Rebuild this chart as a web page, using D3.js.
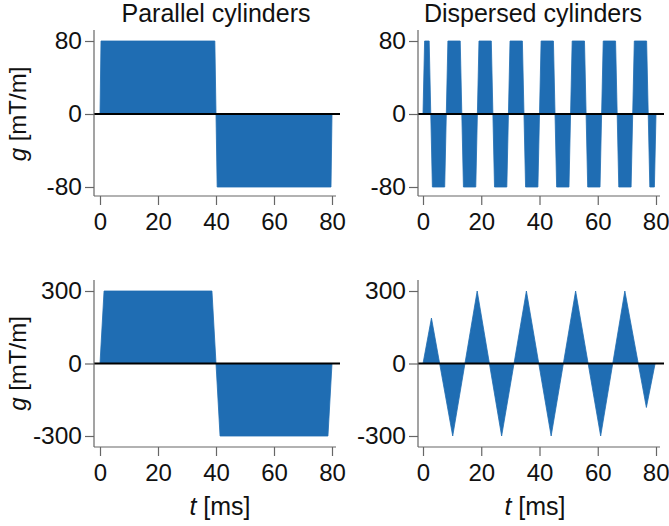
<!DOCTYPE html>
<html>
<head>
<meta charset="utf-8">
<script src="https://cdn.jsdelivr.net/npm/d3@7"></script>
<style>
  html, body { margin: 0; padding: 0; background: #fff; }
  text { font-family: "Liberation Sans", Arial, Helvetica, sans-serif; fill: #111; }
</style>
</head>
<body>
<svg id="chart" width="669" height="526"></svg>
<script>
// ---- data ----
const columnTitles = ["Parallel cylinders", "Dispersed cylinders"];
const xTicks = [0, 20, 40, 60, 80];
const yTicksTop = [-80, 0, 80];
const yTicksBottom = [-300, 0, 300];

// Top-left: parallel cylinders, 80 mT/m
const parTopT = [0, 0.35, 39.6, 40, 40.4, 79.65, 80];
const parTopG = [0, 80, 80, 0, -80, -80, 0];

// Top-right: dispersed cylinders, 80 mT/m trapezoids
const disTopT = [0, 0.55, 2.12, 2.67, 3.22, 7.45, 8.0, 8.55, 12.78, 13.33, 13.88, 18.12, 18.67,
  19.22, 23.45, 24.0, 24.55, 28.78, 29.33, 29.88, 34.12, 34.67, 35.22, 39.45, 40.0,
  40.55, 44.78, 45.33, 45.88, 50.12, 50.67, 51.22, 55.45, 56.0, 56.55, 60.78, 61.33,
  61.88, 66.12, 66.67, 67.22, 71.45, 72.0, 72.55, 76.78, 77.33, 77.88, 79.45, 80];
const disTopG = [0, 80, 80, 0, -80, -80, 0, 80, 80, 0, -80, -80, 0,
  80, 80, 0, -80, -80, 0, 80, 80, 0, -80, -80, 0,
  80, 80, 0, -80, -80, 0, 80, 80, 0, -80, -80, 0,
  80, 80, 0, -80, -80, 0, 80, 80, 0, -80, -80, 0];

// Bottom-left: parallel cylinders, 300 mT/m
const parBotT = [0, 1.4, 38.6, 40, 41.4, 78.6, 80];
const parBotG = [0, 300, 300, 0, -300, -300, 0];

// Bottom-right: dispersed cylinders, 300 mT/m triangles
const disBotT = [0, 2.9, 10.2, 18.6, 27.0, 35.5, 44.0, 52.4, 61.0, 69.3, 76.7, 79.7];
const disBotG = [0, 188, -300, 300, -300, 300, -300, 300, -300, 300, -182, 0];

// ---- layout ----
const svg = d3.select("#chart");
const blue = "#1f6db3";
const axisColor = "#666";
const FONT = '"Liberation Sans", Arial, sans-serif';

const cols = [
  { x0: 100, x80: 332, axisX: 94, axisEnd: 336, titleX: 216, labelX: 220 },
  { x0: 423, x80: 656, axisX: 418, axisEnd: 660, titleX: 533, labelX: 535 }
];
const rows = [
  { ticks: yTicksTop, yMax: 80, yTopPx: 41, yBotPx: 187, axisTop: 30, axisBot: 196 },
  { ticks: yTicksBottom, yMax: 300, yTopPx: 291, yBotPx: 436, axisTop: 280, axisBot: 447 }
];
const panels = [
  { r: 0, c: 0, t: parTopT, g: parTopG },
  { r: 0, c: 1, t: disTopT, g: disTopG },
  { r: 1, c: 0, t: parBotT, g: parBotG },
  { r: 1, c: 1, t: disBotT, g: disBotG }
];
const fmt = d => String(d); // plain hyphen-minus as in the reference

panels.forEach(p => {
  const C = cols[p.c], R = rows[p.r];
  const x = d3.scaleLinear().domain([0, 80]).range([C.x0, C.x80]);
  const y = d3.scaleLinear().domain([-R.yMax, R.yMax]).range([R.yBotPx, R.yTopPx]);
  const gp = svg.append("g");

  const pts = p.t.map((t, i) => [t, p.g[i]]);
  const area = d3.area().x(d => x(d[0])).y0(y(0)).y1(d => y(d[1]));
  gp.append("path").datum(pts).attr("d", area).attr("fill", blue)
    .attr("stroke", blue).attr("stroke-width", 0.8).attr("stroke-linejoin", "round");

  // zero line
  gp.append("line").attr("x1", C.axisX).attr("x2", C.axisEnd + 4)
    .attr("y1", y(0)).attr("y2", y(0)).attr("stroke", "#000").attr("stroke-width", 2.2);

  // y axis
  const yAxis = d3.axisLeft(y).tickValues(R.ticks).tickSize(9).tickPadding(3).tickFormat(fmt);
  const ga = gp.append("g").attr("transform", `translate(${C.axisX},0)`).call(yAxis);
  ga.select(".domain").remove();
  ga.append("line").attr("x1", 0).attr("x2", 0).attr("y1", R.axisTop).attr("y2", R.axisBot)
    .attr("stroke", axisColor).attr("stroke-width", 1.2);
  ga.selectAll(".tick line").attr("stroke", axisColor).attr("stroke-width", 1.2);
  ga.selectAll(".tick text").style("font-size", "24.5px").attr("fill", "#111")
    .style("font-family", FONT);

  // x axis
  const xAxis = d3.axisBottom(x).tickValues(xTicks).tickSize(9).tickPadding(8).tickFormat(fmt);
  const gx = gp.append("g").attr("transform", `translate(0,${R.axisBot})`).call(xAxis);
  gx.select(".domain").remove();
  gx.append("line").attr("x1", C.axisX).attr("x2", C.axisEnd).attr("y1", 0).attr("y2", 0)
    .attr("stroke", axisColor).attr("stroke-width", 1.2);
  gx.selectAll(".tick line").attr("stroke", axisColor).attr("stroke-width", 1.2);
  gx.selectAll(".tick text").style("font-size", "24px").attr("fill", "#111")
    .style("font-family", FONT);
  if (p.c === 1) {
    // keep the last label inside the page edge
    gx.selectAll(".tick text").filter(d => d === 80).attr("text-anchor", "end").attr("x", 13);
  }

  // y label for left column
  if (p.c === 0) {
    const lbl = svg.append("text")
      .attr("transform", `translate(26,${y(0)}) rotate(-90)`)
      .attr("text-anchor", "middle").style("font-size", "24px");
    lbl.append("tspan").style("font-style", "italic").text("g");
    lbl.append("tspan").text(" [mT/m]");
  }
  // x label for bottom row
  if (p.r === 1) {
    const lbl = svg.append("text")
      .attr("x", C.labelX).attr("y", 515)
      .attr("text-anchor", "middle").style("font-size", "25px");
    lbl.append("tspan").style("font-style", "italic").text("t");
    lbl.append("tspan").text(" [ms]");
  }
  // titles
  if (p.r === 0) {
    svg.append("text").attr("x", C.titleX).attr("y", 22)
      .attr("text-anchor", "middle").style("font-size", "25px").text(columnTitles[p.c]);
  }
});
</script>
</body>
</html>
